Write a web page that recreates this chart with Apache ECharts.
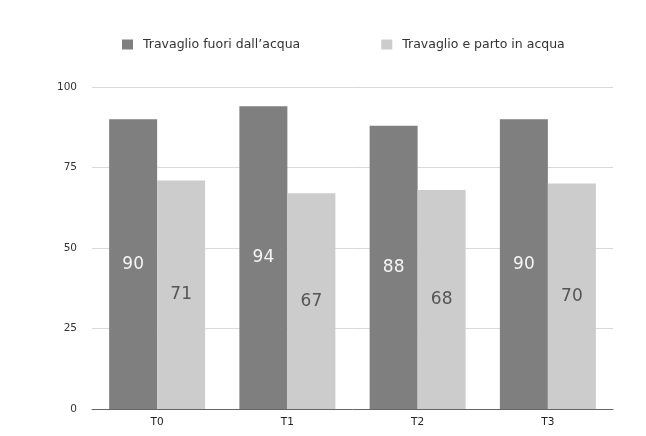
<!DOCTYPE html>
<html>
<head>
<meta charset="utf-8">
<script src="https://cdn.jsdelivr.net/npm/echarts@6/dist/echarts.min.js"></script>
<style>
  html, body { margin: 0; padding: 0; background: #ffffff; }
  #chart { width: 646px; height: 436px; }
</style>
</head>
<body>
<div id="chart"></div>
<script>
// Time points and the two delivery groups
const categories = ['T0', 'T1', 'T2', 'T3'];
const seriesNames = ['Travaglio fuori dall\u2019acqua', 'Travaglio e parto in acqua'];
const outsideWater = [90, 94, 88, 90];
const inWater = [71, 67, 68, 70];
const yTicks = [0, 25, 50, 75, 100];

const chart = echarts.init(document.getElementById('chart'), null, { renderer: 'canvas' });

const fontFamily = '"DejaVu Sans", Verdana, sans-serif';

chart.setOption({
  animation: false,
  backgroundColor: '#ffffff',
  legend: {
    top: 33,
    left: 117,
    itemGap: 81,
    itemWidth: 11,
    itemHeight: 10,
    icon: 'rect',
    textStyle: { fontFamily, fontSize: 12.5, color: '#333333', padding: [0, 0, 0, 5] },
    data: seriesNames
  },
  grid: { left: 92, right: 33, top: 87, bottom: 27 },
  xAxis: {
    type: 'category',
    data: categories,
    axisLine: { lineStyle: { color: '#666666', width: 1 } },
    axisTick: { show: false },
    axisLabel: { fontFamily, fontSize: 10.5, color: '#222222', margin: 8 }
  },
  yAxis: {
    type: 'value',
    min: yTicks[0],
    max: yTicks[yTicks.length - 1],
    interval: 25,
    axisLine: { show: false },
    axisTick: { show: false },
    axisLabel: { fontFamily, fontSize: 10.5, color: '#333333', margin: 15 },
    splitLine: { lineStyle: { color: '#d9d9d9', width: 1 } }
  },
  series: [
    {
      name: seriesNames[0],
      type: 'bar',
      data: outsideWater,
      barWidth: 48,
      barGap: '0%',
      itemStyle: { color: '#7f7f7f' },
      label: {
        show: true,
        position: 'inside',
        fontFamily,
        fontSize: 17,
        color: '#f5f5f5'
      }
    },
    {
      name: seriesNames[1],
      type: 'bar',
      data: inWater,
      barWidth: 48,
      barGap: '0%',
      itemStyle: { color: '#cccccc' },
      label: {
        show: true,
        position: 'inside',
        fontFamily,
        fontSize: 17,
        color: '#555555'
      }
    }
  ]
});
</script>
</body>
</html>
